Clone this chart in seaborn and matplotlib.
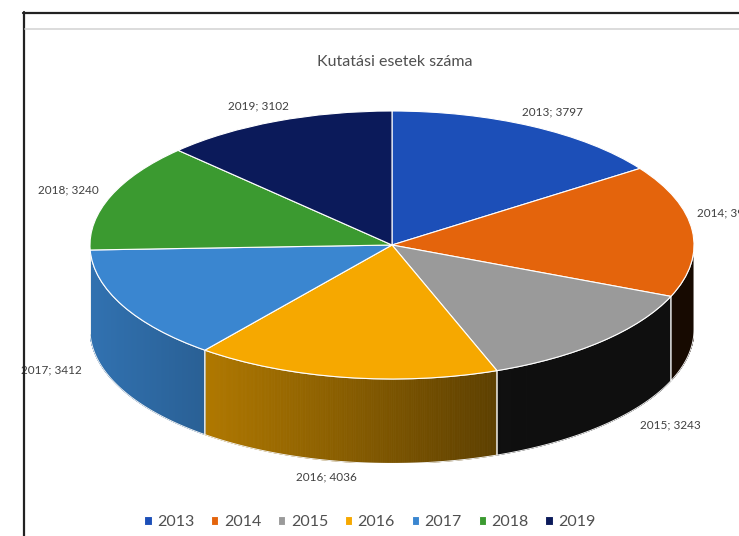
import numpy as np
import matplotlib
matplotlib.use("Agg")
import matplotlib.pyplot as plt
import seaborn as sns
from matplotlib.lines import Line2D
from matplotlib.patches import Polygon
from matplotlib.collections import PolyCollection
from matplotlib.colors import to_rgb

# data (2014 value is cut off in the picture, estimated)
years = ["2013", "2014", "2015", "2016", "2017", "2018", "2019"]
cases = [3797, 3950, 3243, 4036, 3412, 3240, 3102]
colors = ["#1c4fb8", "#e4640c", "#9a9a9a", "#f6a800", "#3a86d0", "#3b9a30", "#0b1a5a"]

sns.set_theme(style="white")
plt.rcParams["font.family"] = ["Lato", "DejaVu Sans"]

W, H = 739, 536
fig = plt.figure(figsize=(W / 100, H / 100), dpi=100)
fig.patch.set_facecolor("white")

# pie axes: top face is an ellipse, the side wall hangs below it
depth = 0.63
b_px = 134
ax_left, ax_top, ax_w = 90, 111, 604
ax_h = b_px * (2 + depth)
ax = fig.add_axes([ax_left / W, 1 - (ax_top + ax_h) / H, ax_w / W, ax_h / H])

wedges, _ = ax.pie(cases, colors=colors, startangle=90, counterclock=False,
                   radius=1, wedgeprops=dict(edgecolor="white", linewidth=0.8))
for w in wedges:
    w.set_zorder(5)


def shade(x):
    # light from the left, the right part of the wall falls into shadow
    if x > 0.35:
        return 0.1
    return 0.5 - 0.35 * x


# side walls with left-to-right shading
polys, fills = [], []
for w, c in zip(wedges, colors):
    base = np.array(to_rgb(c))
    t = np.radians(np.linspace(w.theta1, w.theta2, 240))
    t = t[np.sin(t) <= 0.001]
    if len(t) < 2:
        continue
    for a, b in zip(t[:-1], t[1:]):
        x0, x1 = np.cos(a), np.cos(b)
        y0, y1 = np.sin(a), np.sin(b)
        polys.append([(x0, y0), (x1, y1), (x1, y1 - depth), (x0, y0 - depth)])
        fills.append(tuple(base * shade(0.5 * (x0 + x1))))
    outline = list(zip(np.cos(t), np.sin(t))) + list(zip(np.cos(t[::-1]), np.sin(t[::-1]) - depth))
    ax.add_patch(Polygon(outline, closed=True, facecolor="none", edgecolor="#f2f2f2",
                         linewidth=0.7, zorder=3))
side = PolyCollection(polys, facecolors=fills, edgecolors=fills, linewidths=0.6, zorder=2)
ax.add_collection(side)

ax.set_aspect("auto")
ax.set_xlim(-1, 1)
ax.set_ylim(-1 - depth, 1)
ax.axis("off")

# data labels
for w, yr, v in zip(wedges, years, cases):
    mid = np.radians(0.5 * (w.theta1 + w.theta2))
    s, c = np.sin(mid), np.cos(mid)
    lx, ly = (1.15 + 0.25 * max(0, -s)) * c, 1.12 * s
    ha = "center"
    if c > 0.95:
        ha, lx, ly = "left", 1.01, ly + 0.12
    if ly < 0:
        ly -= depth * np.sqrt(-s)
    ax.text(lx, ly, f"{yr}; {v}", ha=ha, va="center", fontsize=8.5,
            color="#404040", clip_on=False)

# title
fig.text(395 / W, 1 - 62 / H, "Kutatási esetek száma", ha="center", va="center",
         fontsize=11.5, color="#505050")

# legend
fig.legend(wedges, years, loc="center", bbox_to_anchor=(370 / W, 1 - 522 / H),
           ncol=7, frameon=False, fontsize=11.5, handlelength=0.45, handleheight=0.45,
           handletextpad=0.35, columnspacing=1.05, labelcolor="#505050")

# frame of the screenshot
fig.add_artist(Line2D([23.5 / W, 23.5 / W], [1 - 12 / H, 0], color="#222222",
                      linewidth=1.6, transform=fig.transFigure))
fig.add_artist(Line2D([23 / W, 1], [1 - 12.5 / H, 1 - 12.5 / H], color="#222222",
                      linewidth=1.6, transform=fig.transFigure))
fig.add_artist(Line2D([25 / W, 1], [1 - 28.5 / H, 1 - 28.5 / H], color="#d6d6d6",
                      linewidth=1.2, transform=fig.transFigure))

fig.savefig("out.png", dpi=100)
